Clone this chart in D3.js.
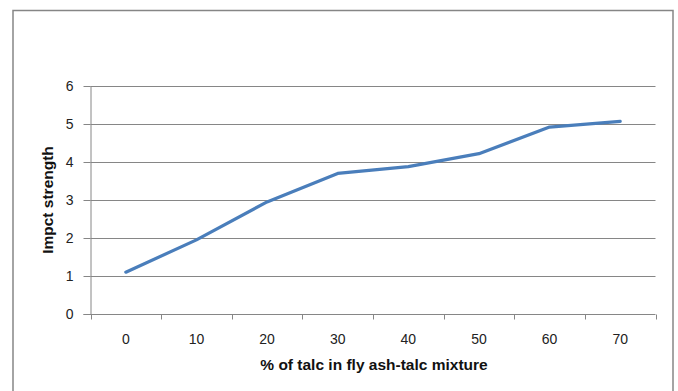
<!DOCTYPE html>
<html>
<head>
<meta charset="utf-8">
<script src="https://cdn.jsdelivr.net/npm/d3@7"></script>
<style>
  html, body { margin: 0; padding: 0; background: #fff; }
  svg { display: block; }
</style>
</head>
<body>
<svg id="chart" width="678" height="391"></svg>
<script>
// Impact strength vs talc content
const categories = ["0", "10", "20", "30", "40", "50", "60", "70"];
const impactStrength = [1.1, 1.95, 2.95, 3.7, 3.88, 4.22, 4.92, 5.07];
const yTicks = [0, 1, 2, 3, 4, 5, 6];

const svg = d3.select("#chart");
const plot = { left: 90.5, right: 655.5, top: 86, bottom: 314 };
const gridColor = "#868686";
const font = "'Liberation Sans', Arial, sans-serif";

// chart frame
svg.append("rect")
  .attr("x", 13).attr("y", 10.5)
  .attr("width", 660).attr("height", 400)
  .attr("fill", "#fff")
  .attr("stroke", gridColor)
  .attr("stroke-width", 1.5);

const x = d3.scaleBand()
  .domain(categories)
  .range([plot.left, plot.right])
  .paddingInner(0).paddingOuter(0);

const y = d3.scaleLinear()
  .domain([0, 6])
  .range([plot.bottom, plot.top]);

// horizontal gridlines
svg.append("g")
  .selectAll("line")
  .data(yTicks.filter(d => d > 0))
  .join("line")
  .attr("x1", plot.left).attr("x2", plot.right)
  .attr("y1", d => Math.round(y(d)) + 0.5)
  .attr("y2", d => Math.round(y(d)) + 0.5)
  .attr("stroke", gridColor)
  .attr("stroke-width", 1);

// y axis
const yAxis = svg.append("g")
  .attr("transform", `translate(${plot.left},0)`)
  .call(d3.axisLeft(y).tickValues(yTicks).tickSize(7).tickPadding(10).tickFormat(d3.format("d")));
yAxis.selectAll("path, line").attr("stroke", gridColor);
yAxis.selectAll("text")
  .attr("font-family", font).attr("font-size", 14).attr("fill", "#222");
yAxis.select(".domain").attr("d", `M0.5,${plot.top}V${plot.bottom}`);

// x axis with ticks between categories
const xAxisG = svg.append("g")
  .attr("transform", `translate(0,${Math.round(plot.bottom) + 0.5})`);
xAxisG.append("line")
  .attr("x1", plot.left - 7).attr("x2", plot.right)
  .attr("stroke", gridColor);
const boundaries = categories.map(c => x(c)).concat([x(categories[categories.length - 1]) + x.bandwidth()]);
xAxisG.selectAll("line.tick")
  .data(boundaries)
  .join("line")
  .attr("class", "tick")
  .attr("x1", d => Math.round(d) + 0.5).attr("x2", d => Math.round(d) + 0.5)
  .attr("y1", 0).attr("y2", 5)
  .attr("stroke", gridColor);
xAxisG.selectAll("text")
  .data(categories)
  .join("text")
  .attr("x", d => x(d) + x.bandwidth() / 2)
  .attr("y", 29)
  .attr("text-anchor", "middle")
  .attr("font-family", font).attr("font-size", 14).attr("fill", "#222")
  .text(d => d);

// series line
const line = d3.line()
  .x((d, i) => x(categories[i]) + x.bandwidth() / 2)
  .y(d => y(d));
svg.append("path")
  .datum(impactStrength)
  .attr("d", line)
  .attr("fill", "none")
  .attr("stroke", "#4a7ebb")
  .attr("stroke-width", 3.2)
  .attr("stroke-linecap", "round")
  .attr("stroke-linejoin", "round");

// axis titles
svg.append("text")
  .attr("x", 374)
  .attr("y", 370)
  .attr("text-anchor", "middle")
  .attr("font-family", font).attr("font-size", 15.5).attr("font-weight", "bold").attr("fill", "#111")
  .text("% of talc in fly ash-talc mixture");

svg.append("text")
  .attr("transform", `translate(53,${(plot.top + plot.bottom) / 2}) rotate(-90)`)
  .attr("text-anchor", "middle")
  .attr("font-family", font).attr("font-size", 15.5).attr("font-weight", "bold").attr("fill", "#111")
  .text("Impct strength");
</script>
</body>
</html>
